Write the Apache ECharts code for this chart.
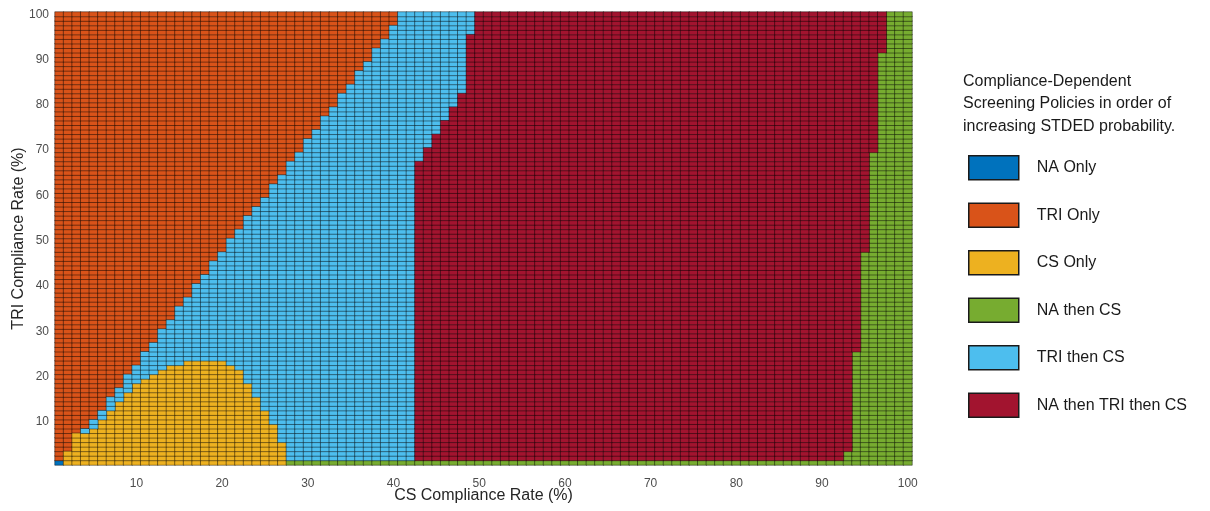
<!DOCTYPE html>
<html>
<head>
<meta charset="utf-8">
<script src="https://cdn.jsdelivr.net/npm/echarts@6/dist/echarts.min.js"></script>
<style>
  html, body {margin: 0; padding: 0; background: #fff;}
  #chart {width: 1210px; height: 511px;}
</style>
</head>
<body>
<div id="chart"></div>
<script>
// policy classes, in legend order
const policies = ['NA Only', 'TRI Only', 'CS Only', 'NA then CS', 'TRI then CS', 'NA then TRI then CS'];
const colors = ['#0072BD', '#D95319', '#EDB120', '#77AC30', '#4DBEEE', '#A2142F'];

// per TRI row (1..100): last column that is "TRI Only"
const orangeEnd = [
  0, 1, 1, 2, 2, 2, 2, 3, 4, 4,
  5, 5, 6, 6, 6, 7, 7, 8, 8, 8,
  9, 9, 10, 10, 10, 11, 11, 12, 12, 12,
  13, 13, 14, 14, 14, 15, 15, 16, 16, 16,
  17, 17, 18, 18, 18, 19, 19, 20, 20, 20,
  21, 21, 22, 22, 22, 23, 23, 24, 24, 25,
  25, 25, 26, 26, 27, 27, 27, 28, 28, 29,
  29, 29, 30, 30, 31, 31, 31, 32, 32, 33,
  33, 33, 34, 34, 35, 35, 35, 36, 36, 37,
  37, 37, 38, 38, 39, 39, 39, 40, 40, 40
];

// rows 1..23: "CS Only" column range
const yellowStart = [2, 2, 2, 3, 3, 3, 3, 5, 6, 6, 7, 7, 8, 8, 9, 9, 10, 10, 11, 12, 13, 14, 16];
const yellowEnd = [27, 27, 27, 27, 27, 26, 26, 26, 26, 25, 25, 25, 24, 24, 24, 23, 23, 23, 22, 22, 22, 21, 20];

// per row: last "TRI then CS" column
const cyanEnd = [
  27, 42, 42, 42, 42, 42, 42, 42, 42, 42,
  42, 42, 42, 42, 42, 42, 42, 42, 42, 42,
  42, 42, 42, 42, 42, 42, 42, 42, 42, 42,
  42, 42, 42, 42, 42, 42, 42, 42, 42, 42,
  42, 42, 42, 42, 42, 42, 42, 42, 42, 42,
  42, 42, 42, 42, 42, 42, 42, 42, 42, 42,
  42, 42, 42, 42, 42, 42, 42, 43, 43, 43,
  44, 44, 44, 45, 45, 45, 46, 46, 46, 47,
  47, 47, 48, 48, 48, 48, 48, 48, 48, 48,
  48, 48, 48, 48, 48, 49, 49, 49, 49, 49
];

// per row: last "NA then TRI then CS" column, green after it
const redEnd = [
  27, 92, 92, 93, 93, 93, 93, 93, 93, 93,
  93, 93, 93, 93, 93, 93, 93, 93, 93, 93,
  93, 93, 93, 93, 93, 94, 94, 94, 94, 94,
  94, 94, 94, 94, 94, 94, 94, 94, 94, 94,
  94, 94, 94, 94, 94, 94, 94, 95, 95, 95,
  95, 95, 95, 95, 95, 95, 95, 95, 95, 95,
  95, 95, 95, 95, 95, 95, 95, 95, 95, 96,
  96, 96, 96, 96, 96, 96, 96, 96, 96, 96,
  96, 96, 96, 96, 96, 96, 96, 96, 96, 96,
  96, 97, 97, 97, 97, 97, 97, 97, 97, 97
];

// [cs, tri] cells that are "NA Only"
const blueCells = [[1, 1]];

const rates = Array.from({length: 100}, (_, i) => String(i + 1));

function policyAt(cs, tri) {
  if (blueCells.some(c => c[0] === cs && c[1] === tri)) return 0;
  if (cs <= orangeEnd[tri - 1]) return 1;
  if (tri <= yellowStart.length && cs >= yellowStart[tri - 1] && cs <= yellowEnd[tri - 1]) return 2;
  if (cs <= cyanEnd[tri - 1]) return 4;
  if (cs <= redEnd[tri - 1]) return 5;
  return 3;
}

const cells = policies.map(() => []);
for (let tri = 1; tri <= 100; tri++) {
  for (let cs = 1; cs <= 100; cs++) {
    const p = policyAt(cs, tri);
    cells[p].push([cs - 1, tri - 1, p]);
  }
}

const chart = echarts.init(document.getElementById('chart'), null, {renderer: 'canvas'});
const font = '"Liberation Sans", Arial, Helvetica, sans-serif';

chart.setOption({
  animation: false,
  textStyle: {fontFamily: font},
  title: {
    text: 'Compliance-Dependent\nScreening Policies in order of\nincreasing STDED probability.',
    left: 963,
    top: 70,
    padding: 0,
    textStyle: {fontSize: 16, fontWeight: 'normal', color: '#1a1a1a', lineHeight: 22.5, fontFamily: font}
  },
  legend: {
    orient: 'vertical',
    left: 963,
    top: 150,
    icon: 'rect',
    itemWidth: 50,
    itemHeight: 24,
    itemGap: 22,
    selectedMode: false,
    data: policies,
    itemStyle: {borderColor: '#1a1a1a', borderWidth: 1.5},
    textStyle: {fontSize: 16, color: '#1a1a1a', padding: [0, 0, 0, 13], fontFamily: font}
  },
  grid: {left: 55, top: 12, width: 857, height: 453, outerBoundsMode: 'none'},
  xAxis: {
    type: 'category',
    data: rates,
    name: 'CS Compliance Rate (%)',
    nameLocation: 'middle',
    nameGap: 23,
    nameMoveOverlap: false,
    nameTextStyle: {fontSize: 16, color: '#262626'},
    axisLine: {show: false},
    axisTick: {show: false},
    axisLabel: {
      interval: (idx) => (idx + 1) % 10 === 0,
      color: '#4d4d4d',
      fontSize: 12,
      margin: 13
    }
  },
  yAxis: {
    type: 'category',
    data: rates,
    name: 'TRI Compliance Rate (%)',
    nameLocation: 'middle',
    nameGap: 28,
    nameMoveOverlap: false,
    nameTextStyle: {fontSize: 16, color: '#262626'},
    axisLine: {show: false},
    axisTick: {show: false},
    axisLabel: {
      interval: (idx) => (idx + 1) % 10 === 0,
      color: '#4d4d4d',
      fontSize: 12,
      margin: 6
    }
  },
  series: policies.map((name, k) => ({
    name: name,
    type: 'heatmap',
    data: cells[k],
    progressive: 0,
    itemStyle: {color: colors[k], borderColor: 'rgba(0,0,0,0.55)', borderWidth: 0.8},
    emphasis: {disabled: true}
  }))
});
</script>
</body>
</html>
